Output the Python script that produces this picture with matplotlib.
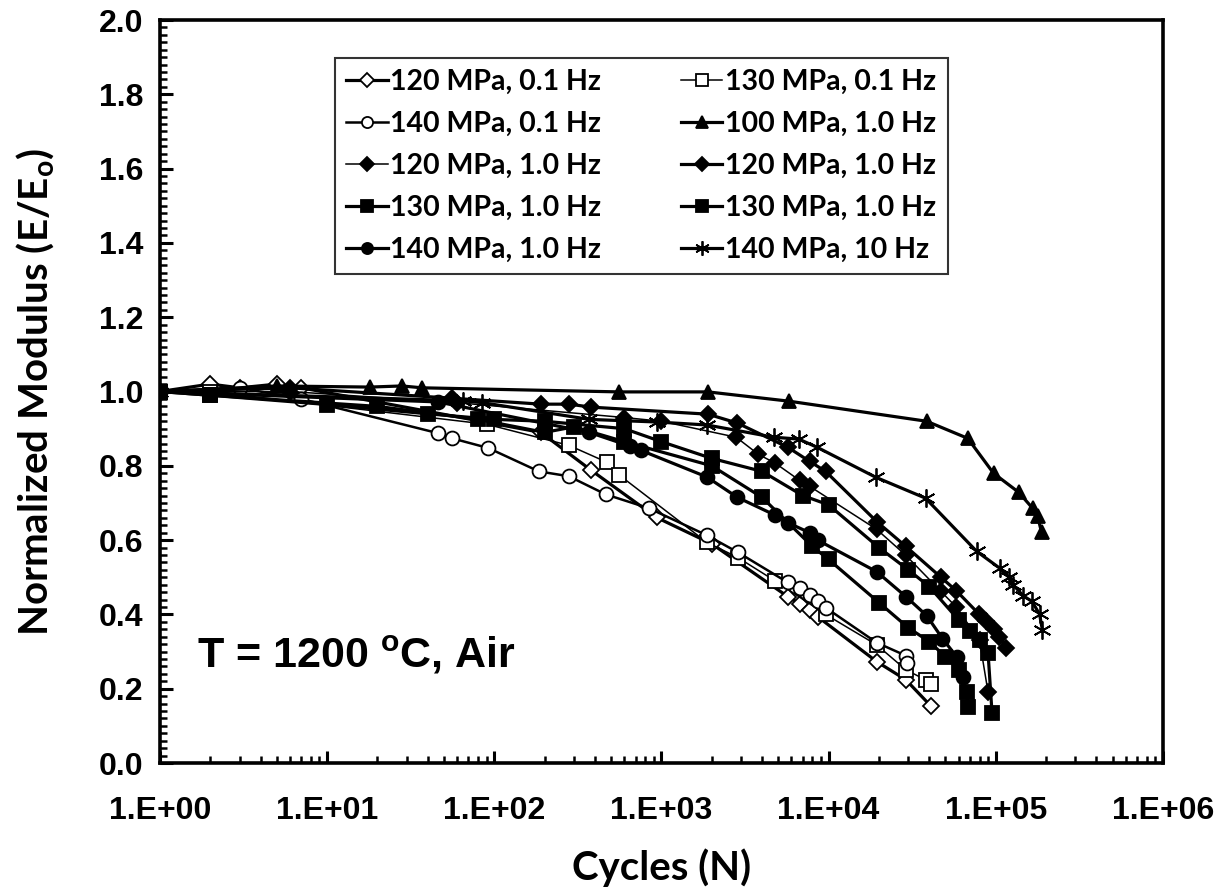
import matplotlib
matplotlib.use("Agg")
import matplotlib.pyplot as plt
from matplotlib.ticker import FixedLocator, MultipleLocator, LogLocator, NullFormatter

# cycles / normalized modulus
n_120_01 = [1, 2, 3, 5, 7, 190, 380, 935, 2000, 5700, 6700, 7700, 8600, 19400, 29000, 40800]
e_120_01 = [1.0, 1.02, 1.01, 1.02, 1.01, 0.89, 0.788, 0.661, 0.59, 0.448, 0.429, 0.413, 0.394, 0.273, 0.224, 0.154]

n_130_01 = [1, 2, 90, 280, 470, 560, 1870, 2870, 4760, 9600, 19400, 29000, 38000, 40800]
e_130_01 = [1.0, 1.0, 0.912, 0.855, 0.81, 0.775, 0.594, 0.553, 0.491, 0.40, 0.318, 0.251, 0.224, 0.213]

n_140_01 = [1, 3, 7, 46, 56, 92, 185, 279, 465, 840, 1870, 2870, 5700, 6730, 7720, 8620, 9620, 19400, 29000, 29400]
e_140_01 = [1.0, 1.01, 0.98, 0.888, 0.874, 0.848, 0.785, 0.772, 0.723, 0.686, 0.613, 0.567, 0.486, 0.472, 0.451,
            0.437, 0.418, 0.324, 0.289, 0.270]

n_100_1 = [1, 5, 18, 28, 37, 560, 1900, 5800, 38600, 68000, 97000, 137000, 166000, 178000, 188000]
e_100_1 = [1.0, 1.015, 1.012, 1.015, 1.01, 0.999, 0.999, 0.974, 0.92, 0.874, 0.78, 0.729, 0.686, 0.664, 0.621]

n_120_1a = [1, 6, 60, 600, 1000, 2800, 3800, 4800, 6700, 7700, 19400, 29000, 47000, 58000, 80000, 90000]
e_120_1a = [1.0, 1.0, 0.97, 0.93, 0.92, 0.877, 0.831, 0.807, 0.761, 0.745, 0.629, 0.559, 0.462, 0.42, 0.33, 0.19]

n_120_1b = [1, 6, 56, 190, 280, 380, 1900, 2850, 5700, 7700, 9600, 19400, 29000, 47000, 58000, 79000, 88000,
            98000, 105000, 115000]
e_120_1b = [1.0, 1.01, 0.982, 0.966, 0.966, 0.958, 0.939, 0.915, 0.85, 0.812, 0.785, 0.65, 0.583, 0.50, 0.464,
            0.402, 0.383, 0.362, 0.34, 0.31]

n_130_1a = [1, 2, 10, 40, 100, 200, 600, 1000, 2000, 4000, 7000, 10000, 20000, 30000, 40000, 60000, 70000, 80000,
            90000, 95000]
e_130_1a = [1.0, 0.99, 0.965, 0.94, 0.925, 0.92, 0.90, 0.865, 0.82, 0.785, 0.72, 0.695, 0.58, 0.52, 0.475, 0.385,
            0.355, 0.33, 0.295, 0.135]

n_130_1b = [1, 2, 20, 80, 200, 300, 600, 2000, 4000, 8000, 10000, 20000, 30000, 40000, 50000, 60000, 67000, 68000]
e_130_1b = [1.0, 0.99, 0.96, 0.925, 0.89, 0.905, 0.865, 0.80, 0.715, 0.583, 0.548, 0.432, 0.364, 0.327, 0.286,
            0.251, 0.19, 0.15]

n_140_1 = [1, 46, 370, 650, 750, 1870, 2850, 4800, 5700, 7700, 8600, 19400, 29000, 38600, 48000, 58400, 64000]
e_140_1 = [1.0, 0.972, 0.89, 0.853, 0.842, 0.77, 0.715, 0.667, 0.647, 0.62, 0.60, 0.515, 0.448, 0.397, 0.335,
           0.286, 0.232]

n_140_10 = [1, 65, 85, 370, 935, 1870, 4700, 6630, 8530, 19200, 38000, 76800, 106000, 120000, 127000, 146000,
            165000, 183000, 190000]
e_140_10 = [1.0, 0.975, 0.97, 0.925, 0.918, 0.91, 0.877, 0.872, 0.85, 0.769, 0.713, 0.57, 0.524, 0.50, 0.48,
            0.45, 0.435, 0.40, 0.359]

ytick_vals = [0.0, 0.2, 0.4, 0.6, 0.8, 1.0, 1.2, 1.4, 1.6, 1.8, 2.0]
xtick_vals = [1e0, 1e1, 1e2, 1e3, 1e4, 1e5, 1e6]
xtick_labels = ["1.E+00", "1.E+01", "1.E+02", "1.E+03", "1.E+04", "1.E+05", "1.E+06"]

calibri = ["Lato", "DejaVu Sans"]
arial = ["Liberation Sans", "DejaVu Sans"]

fig = plt.figure(figsize=(12.2, 8.94), dpi=100)
ax = fig.add_axes([0.1311, 0.1465, 0.8221, 0.8311])

thick = 2.3
thin = 1.1
ms = 10

# (x, y, label, marker, facecolor, linewidth, markersize)
series = [
    (n_120_01, e_120_01, "120 MPa, 0.1 Hz", "D", "white", thick, 8.5),
    (n_130_01, e_130_01, "130 MPa, 0.1 Hz", "s", "white", thin, ms),
    (n_140_01, e_140_01, "140 MPa, 0.1 Hz", "o", "white", 1.8, ms),
    (n_100_1, e_100_1, "100 MPa, 1.0 Hz", "^", "black", thick, ms),
    (n_120_1a, e_120_1a, "120 MPa, 1.0 Hz", "D", "black", thin, 8.5),
    (n_120_1b, e_120_1b, "120 MPa, 1.0 Hz", "D", "black", thick, 8.5),
    (n_130_1a, e_130_1a, "130 MPa, 1.0 Hz", "s", "black", thick, ms),
    (n_130_1b, e_130_1b, "130 MPa, 1.0 Hz", "s", "black", thick, ms),
    (n_140_1, e_140_1, "140 MPa, 1.0 Hz", "o", "black", thick, ms),
    (n_140_10, e_140_10, "140 MPa, 10 Hz", (6, 2, 0), "black", thick, 13),
]

handles = []
for x, y, lab, mk, fc, lw, size in series:
    h, = ax.plot(x, y, color="black", lw=lw, marker=mk, markersize=size,
                 markerfacecolor=fc, markeredgecolor="black", markeredgewidth=1.3, label=lab)
    handles.append(h)

ax.set_xscale("log")
ax.set_xlim(1, 1e6)
ax.set_ylim(0, 2.0)

ax.xaxis.set_major_locator(FixedLocator(xtick_vals))
ax.set_xticks(xtick_vals)
ax.set_xticklabels(xtick_labels)
ax.xaxis.set_minor_locator(LogLocator(base=10, subs=range(2, 10)))
ax.xaxis.set_minor_formatter(NullFormatter())
ax.set_yticks(ytick_vals)
ax.set_yticklabels([f"{v:.1f}" for v in ytick_vals])
ax.yaxis.set_minor_locator(MultipleLocator(0.02))

for lab in ax.get_xticklabels() + ax.get_yticklabels():
    lab.set_fontfamily(arial)
    lab.set_fontweight("bold")
    lab.set_fontsize(23)

ax.tick_params(which="major", direction="in", length=9, width=2.2, top=False, right=False)
ax.tick_params(which="minor", direction="in", length=5, width=1.8, top=False, right=False)
ax.tick_params(axis="x", which="major", pad=24)
ax.tick_params(axis="y", which="major", pad=12)

for sp in ax.spines.values():
    sp.set_linewidth(2.6)

ax.set_xlabel("Cycles (N)", fontfamily=calibri, fontweight="bold", fontsize=29, labelpad=16)
ax.set_ylabel("Normalized Modulus (E/E$_\\mathregular{o}$)", fontfamily=calibri, fontweight="bold",
              fontsize=29, labelpad=30)

ax.text(0.037, 0.145, "T = 1200 $^\\mathregular{o}$C, Air", transform=ax.transAxes,
        fontfamily=arial, fontweight="bold", fontsize=31, va="center", ha="left")

# Excel fills the legend row by row, matplotlib column by column
order = [0, 2, 4, 6, 8, 1, 3, 5, 7, 9]
leg = ax.legend([handles[i] for i in order], [series[i][2] for i in order], ncol=2,
                loc="upper left", bbox_to_anchor=(0.1745, 0.949, 0.611, 0.0), mode="expand",
                borderaxespad=0.0,
                prop={"family": calibri, "weight": "bold", "size": 20.5},
                frameon=True, fancybox=False, edgecolor="black", borderpad=0.4,
                labelspacing=0.56, handlelength=1.45, handletextpad=0.1, columnspacing=3.5,
                markerscale=0.8)
leg.get_frame().set_linewidth(1.5)

fig.savefig("out.png", dpi=100)
